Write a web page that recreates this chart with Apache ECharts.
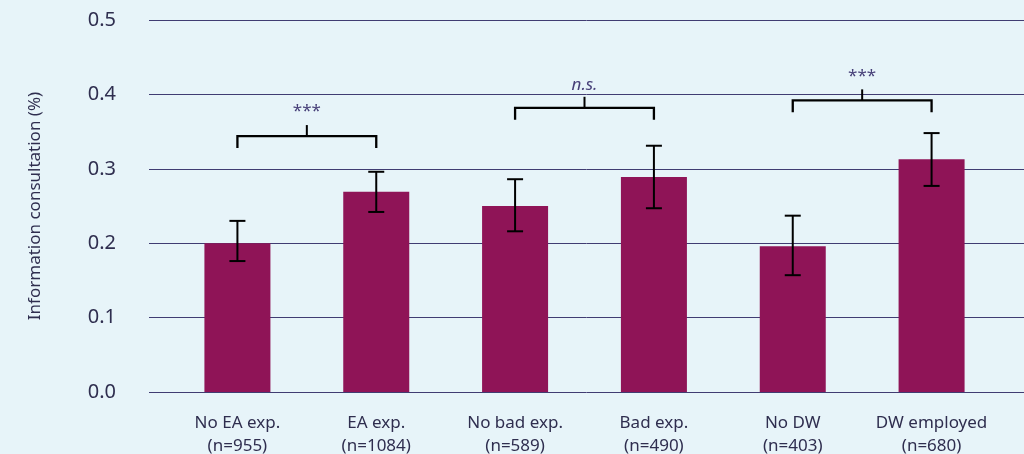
<!DOCTYPE html>
<html>
<head>
<meta charset="utf-8">
<script src="https://cdn.jsdelivr.net/npm/echarts@6/dist/echarts.min.js"></script>
<style>
    html, body { margin: 0; padding: 0; background: #e7f4f9; }
    #chart { width: 1024px; height: 454px; }
</style>
</head>
<body>
<div id="chart"></div>
<script>
// categories and values
const categories = ['No EA exp.\n(n=955)', 'EA exp.\n(n=1084)', 'No bad exp.\n(n=589)', 'Bad exp.\n(n=490)', 'No DW\n(n=403)', 'DW employed\n(n=680)'];
const means = [0.200, 0.269, 0.250, 0.289, 0.196, 0.313];
const errLow = [0.176, 0.242, 0.216, 0.247, 0.157, 0.277];
const errHigh = [0.230, 0.296, 0.286, 0.331, 0.237, 0.348];
const yTicks = [0.0, 0.1, 0.2, 0.3, 0.4, 0.5];

// significance brackets: pairs of category index, bracket level, label
const bracketPairs = [[0, 1], [2, 3], [4, 5]];
const bracketLevels = [0.344, 0.382, 0.392];
const bracketLabels = ['***', 'n.s.', '***'];

const textColor = '#2f2e4f';
const gridColor = '#403c72';
const barColor = '#8f1457';
const font = '"Noto Sans", "Open Sans", sans-serif';

const chart = echarts.init(document.getElementById('chart'));

const errData = means.map((m, i) => [i, errLow[i], errHigh[i]]);
const bracketData = bracketPairs.map((p, i) => [p[0], p[1], bracketLevels[i], i]);

const option = {
    backgroundColor: '#e7f4f9',
    animation: false,
    grid: [
        { left: 149, right: 0, top: 20, bottom: 62, outerBoundsMode: 'none' },
        { left: 168, right: 23, top: 20, bottom: 62, outerBoundsMode: 'none' }
    ],
    xAxis: [
        { gridIndex: 0, type: 'category', data: categories, show: false },
        {
            gridIndex: 1,
            type: 'category',
            data: categories,
            axisLine: { show: false },
            axisTick: { show: false },
            axisLabel: {
                interval: 0,
                color: textColor,
                fontFamily: font,
                fontSize: 17,
                lineHeight: 23,
                margin: 20
            }
        }
    ],
    yAxis: [
        {
            gridIndex: 0,
            type: 'value',
            min: yTicks[0],
            max: yTicks[yTicks.length - 1],
            interval: yTicks[1] - yTicks[0],
            name: 'Information consultation (%)',
            nameLocation: 'middle',
            nameGap: 105,
            nameTextStyle: { color: textColor, fontFamily: font, fontSize: 17 },
            axisLine: { show: false },
            axisTick: { show: false },
            axisLabel: {
                color: textColor,
                fontFamily: font,
                fontSize: 20,
                margin: 33,
                formatter: v => v.toFixed(1)
            },
            splitLine: { show: true, lineStyle: { color: gridColor, width: 1 } }
        },
        {
            gridIndex: 1,
            type: 'value',
            min: yTicks[0],
            max: yTicks[yTicks.length - 1],
            show: false
        }
    ],
    series: [
        {
            type: 'bar',
            xAxisIndex: 1,
            yAxisIndex: 1,
            data: means,
            barWidth: 66,
            itemStyle: { color: barColor }
        },
        {
            type: 'custom',
            xAxisIndex: 1,
            yAxisIndex: 1,
            data: errData,
            z: 5,
            renderItem: function (params, api) {
                const x = api.coord([api.value(0), 0])[0];
                const lo = api.coord([api.value(0), api.value(1)])[1];
                const hi = api.coord([api.value(0), api.value(2)])[1];
                const half = 8;
                const st = { stroke: '#000', lineWidth: 2 };
                return {
                    type: 'group',
                    children: [
                        { type: 'line', shape: { x1: x, y1: hi, x2: x, y2: lo }, style: st },
                        { type: 'line', shape: { x1: x - half, y1: hi, x2: x + half, y2: hi }, style: st },
                        { type: 'line', shape: { x1: x - half, y1: lo, x2: x + half, y2: lo }, style: st }
                    ]
                };
            }
        },
        {
            type: 'custom',
            xAxisIndex: 1,
            yAxisIndex: 1,
            data: bracketData,
            z: 5,
            renderItem: function (params, api) {
                const y = api.coord([api.value(0), api.value(2)])[1];
                const x1 = api.coord([api.value(0), 0])[0];
                const x2 = api.coord([api.value(1), 0])[0];
                const xm = (x1 + x2) / 2;
                const label = bracketLabels[api.value(3)];
                const italic = label === 'n.s.';
                return {
                    type: 'group',
                    children: [
                        {
                            type: 'polyline',
                            shape: { points: [[x1, y + 12], [x1, y], [x2, y], [x2, y + 12]] },
                            style: { stroke: '#000', lineWidth: 2.3, fill: null }
                        },
                        { type: 'line', shape: { x1: xm, y1: y, x2: xm, y2: y - 11 }, style: { stroke: '#000', lineWidth: 2 } },
                        {
                            type: 'text',
                            x: xm,
                            y: italic ? y - 14 : y - 16,
                            style: {
                                text: label,
                                fill: '#463f78',
                                fontFamily: font,
                                fontSize: 17,
                                fontStyle: italic ? 'italic' : 'normal',
                                align: 'center',
                                verticalAlign: 'bottom'
                            }
                        }
                    ]
                };
            }
        }
    ]
};

chart.setOption(option);
</script>
</body>
</html>
